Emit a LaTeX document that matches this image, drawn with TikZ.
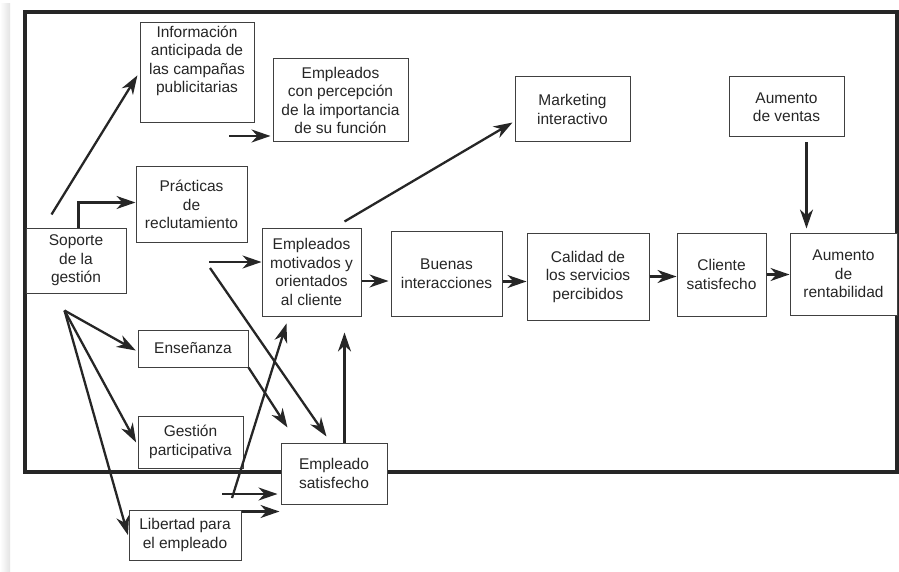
\documentclass[tikz,border=0pt]{standalone}
\usepackage{fontspec}
\setmainfont{Liberation Sans}
\usepackage{xcolor}
\usepackage{tikz}
\usetikzlibrary{calc}
\usetikzlibrary{arrows.meta}
\usetikzlibrary{shapes}
\usetikzlibrary{positioning}

\definecolor{ink}{HTML}{262626}
\definecolor{edge}{HTML}{404040}

\begin{document}
\begin{tikzpicture}[x=1pt, y=-1pt,
  box/.style={rectangle, draw=edge, line width=1pt, fill=white, inner sep=0pt,
    align=center, text=ink, font=\fontsize{15.5}{18.5}\selectfont},
  lbl/.style={align=center, text=ink, font=\fontsize{15.5}{18.5}\selectfont},
  arr/.style={-{Stealth[length=19pt, width=13pt, inset=6pt]}, line width=2.3pt, draw=ink}]
\useasboundingbox (0,0) rectangle (899,572);
\shade [left color=white, right color=gray!22] (0,4) rectangle (10,572);
\draw [line width=3.2pt, draw=ink] (25,12) rectangle (897,472);

\node [box, minimum width=114pt, minimum height=100pt,
  label={[lbl, anchor=north]north:Información\\anticipada de\\las campañas\\publicitarias}] (IA) at (197,73) {};
\node [box, minimum width=135pt, minimum height=83pt] (EP) at (340.5,100.5) {Empleados\\con percepción\\de la importancia\\de su función};
\node [box, minimum width=111pt, minimum height=75pt] (PR) at (191.5,204.5) {Prácticas\\de\\reclutamiento};
\node [box, minimum width=100pt, minimum height=65pt] (SG) at (76,260.5) {Soporte\\de la\\gestión};
\node [box, minimum width=99pt, minimum height=88pt] (EM) at (311.5,272) {Empleados\\motivados y\\orientados\\al cliente};
\node [box, minimum width=111pt, minimum height=85pt] (BI) at (446.5,273.5) {Buenas\\interacciones};
\node [box, minimum width=122pt, minimum height=87pt] (CS) at (588,276.5) {Calidad de\\los servicios\\percibidos};
\node [box, minimum width=89pt, minimum height=83pt] (CL) at (721.5,274.5) {Cliente\\satisfecho};
\node [box, minimum width=107pt, minimum height=82pt] (AR) at (843.5,274) {Aumento\\de\\rentabilidad};
\node [box, minimum width=115pt, minimum height=65pt] (MI) at (572.5,109.5) {Marketing\\interactivo};
\node [box, minimum width=115pt, minimum height=60pt] (AV) at (786.5,107) {Aumento\\de ventas};
\node [box, minimum width=110pt, minimum height=37pt] (EN) at (193,348.5) {Enseñanza};
\node [box, minimum width=105pt, minimum height=52pt] (GP) at (190.5,442) {Gestión\\participativa};
\node [box, minimum width=106pt, minimum height=61pt] (ES) at (334,473.5) {Empleado\\satisfecho};
\node [box, minimum width=112pt, minimum height=50pt] (LE) at (185,535) {Libertad para\\el empleado};

% loose arrow ends
\coordinate (F1) at (229,136);
\coordinate (F2) at (209,262);
\coordinate (F3) at (210,268);
\coordinate (F4) at (232,498);
\coordinate (F5) at (222,494);
\coordinate (FAN) at ([xshift=39pt, yshift=-17pt]SG.south west);
\coordinate (VR) at ([xshift=17pt, yshift=4pt]AR.north west);
\coordinate (SM) at ([xshift=83pt, yshift=-16pt]EM.south west);
\coordinate (EMo) at ([yshift=-9pt]EM.east);
\coordinate (BIo) at ([yshift=-8pt]BI.east);
\coordinate (LEo) at ([yshift=-2pt]LE.north east);

\draw [arr, shorten >=4pt] ([xshift=26pt, yshift=13pt]SG.north west) to ([yshift=1pt]IA.west);
\draw [arr] ([xshift=53pt]SG.north west) |- ([yshift=2pt]PR.west);
\draw [arr, shorten >=2pt] (F1) to (EP.west |- F1);
\draw [arr] (F2) to (EM.west |- F2);
\draw [arr] (F3) to ([xshift=46pt, yshift=6pt]ES.north west);
\draw [arr] ([xshift=83pt, yshift=6pt]EM.north west) to ([xshift=-2pt, yshift=-13pt]MI.west);
\draw [arr, shorten >=2pt] (EMo) to (BI.west |- EMo);
\draw [arr] (BIo) to (CS.west |- BIo);
\draw [arr] (CS.east) to (CL.west |- CS.east);
\draw [arr] (CL.east) to (AR.west |- CL.east);
\draw [arr] ([yshift=-5pt]AV.south -| VR) to (VR);
\draw [arr, shorten >=2pt] (FAN) to ([yshift=-3pt]EN.west);
\draw [arr, shorten >=3pt] (FAN) to ([yshift=-3pt]GP.west);
\draw [arr, shorten >=2pt] (FAN) to ([yshift=-2pt]LE.west);
\draw [arr] (EN.south east) to ([xshift=7pt, yshift=15pt]ES.north west);
\draw [arr] (F4) to ([xshift=25pt, yshift=-7pt]EM.south west);
\draw [arr, shorten >=3pt] (F5) to (ES.west |- F5);
\draw [arr, shorten >=1pt] (LEo) to (ES.west |- LEo);
\draw [arr] (ES.north -| SM) to (SM);
\end{tikzpicture}
\end{document}
